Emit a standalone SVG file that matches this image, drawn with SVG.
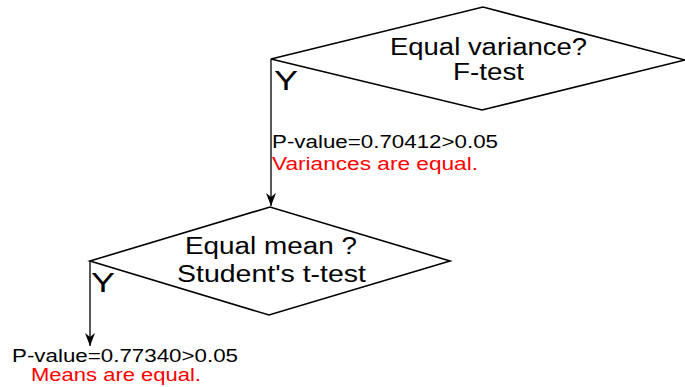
<svg xmlns="http://www.w3.org/2000/svg" width="685" height="387" viewBox="0 0 685 387">
<defs>
<style>
.shape{fill:#fff;stroke:#000;stroke-width:1.6;stroke-linejoin:miter}
.conn{fill:none;stroke:#000;stroke-width:1.3}
.t{font-family:"Liberation Sans",Arial,sans-serif;fill:#000}
.big{font-size:23px}
.y{font-size:28px}
.small{font-size:17.5px}
.red{fill:#ff0000}
</style>
<marker id="arr" markerWidth="14" markerHeight="10" refX="13" refY="5" orient="auto" markerUnits="userSpaceOnUse" viewBox="0 0 14 10">
<path d="M0,0 L13,5 L0,10 L4,5 Z" fill="#000"/>
</marker>
</defs>
<rect width="685" height="387" fill="#fff"/>
<g id="n1">
<polygon class="shape" points="271,59 483,7 685,60 482,110"/>
<text class="t big" x="390" y="55" textLength="197" lengthAdjust="spacingAndGlyphs">Equal variance?</text>
<text class="t big" x="453" y="80" textLength="71" lengthAdjust="spacingAndGlyphs">F-test</text>
</g>
<g id="n2">
<polygon class="shape" points="90,261 270,207 450,261 269,315"/>
<text class="t big" x="185" y="254" textLength="172" lengthAdjust="spacingAndGlyphs">Equal mean ?</text>
<text class="t big" x="177" y="282" textLength="189" lengthAdjust="spacingAndGlyphs">Student's t-test</text>
</g>
<g id="connectors">
<path class="conn" d="M271,59 V206" marker-end="url(#arr)"/>
<path class="conn" d="M90,261 V346" marker-end="url(#arr)"/>
</g>
<g id="labels">
<text class="t y" x="274" y="90" textLength="24" lengthAdjust="spacingAndGlyphs">Y</text>
<text class="t y" x="91" y="292" textLength="24" lengthAdjust="spacingAndGlyphs">Y</text>
<text class="t small" x="272" y="148" textLength="226" lengthAdjust="spacingAndGlyphs">P-value=0.70412&gt;0.05</text>
<text class="t small red" x="272" y="170" textLength="206" lengthAdjust="spacingAndGlyphs">Variances are equal.</text>
<text class="t small" x="12" y="362" textLength="226" lengthAdjust="spacingAndGlyphs">P-value=0.77340&gt;0.05</text>
<text class="t small red" x="31" y="381" textLength="170" lengthAdjust="spacingAndGlyphs">Means are equal.</text>
</g>
</svg>
